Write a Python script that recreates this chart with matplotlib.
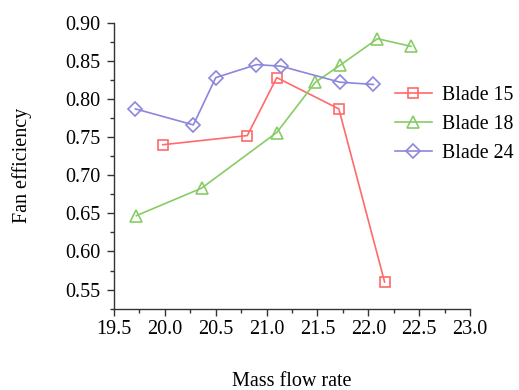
import numpy as np
import matplotlib.pyplot as plt
from matplotlib.ticker import MultipleLocator

plt.rcParams['font.family'] = ['Liberation Serif', 'DejaVu Serif']

# fan efficiency vs mass flow rate for three blade counts
b15_x = [19.98, 20.81, 21.10, 21.71, 22.16]
b15_y = [0.740, 0.752, 0.828, 0.787, 0.560]

b18_x = [19.72, 20.36, 21.10, 21.48, 21.72, 22.09, 22.42]
b18_y = [0.647, 0.683, 0.756, 0.822, 0.844, 0.879, 0.869]

b24_x = [19.71, 20.28, 20.50, 20.90, 21.14, 21.72, 22.05]
b24_y = [0.787, 0.766, 0.828, 0.845, 0.843, 0.822, 0.819]

xticks = np.arange(19.5, 23.01, 0.5)
yticks = np.arange(0.55, 0.901, 0.05)

fig = plt.figure(figsize=(5.19, 3.90), dpi=100)
ax = fig.add_axes([0.2197, 0.2085, 0.6860, 0.7333])

ax.plot(b15_x, b15_y, '-', color='#ff6a6a', lw=1.2, marker='s', ms=7,
        mfc='none', mec='#ff6a6a', mew=1.2, label='Blade 15')
ax.plot(b18_x, b18_y, '-', color='#88cc66', lw=1.2, marker='^', ms=8.5,
        mfc='none', mec='#88cc66', mew=1.2, label='Blade 18')
ax.plot(b24_x, b24_y, '-', color='#8c86dc', lw=1.2, marker='D', ms=7,
        mfc='none', mec='#8c86dc', mew=1.2, label='Blade 24')

ax.set_xlim(19.5, 23.0)
ax.set_ylim(0.525, 0.90)
ax.set_xticks(xticks)
ax.set_xticklabels([f'{v:.1f}' for v in xticks])
ax.set_yticks(yticks)
ax.set_yticklabels([f'{v:.2f}' for v in yticks])
ax.xaxis.set_minor_locator(MultipleLocator(0.25))
ax.yaxis.set_minor_locator(MultipleLocator(0.025))

for s in ['top', 'right']:
    ax.spines[s].set_visible(False)
for s in ['left', 'bottom']:
    ax.spines[s].set_linewidth(1.0)
    ax.spines[s].set_color('#333333')

ax.tick_params(which='major', direction='out', length=5, width=1.0,
               labelsize=14.5, color='#333333', pad=3)
ax.tick_params(axis='y', which='major', pad=5)
ax.tick_params(which='minor', direction='out', length=3, width=1.0,
               color='#333333')

ax.set_xlabel('Mass flow rate', fontsize=14.5, labelpad=24)
ax.set_ylabel('Fan efficiency', fontsize=14.5, labelpad=24)

fig.legend(loc='upper left', bbox_to_anchor=(0.745, 0.80), frameon=False,
           fontsize=14.3, handlelength=1.9, handletextpad=0.5,
           labelspacing=0.5, borderaxespad=0)

fig.savefig('out.png', dpi=100)
